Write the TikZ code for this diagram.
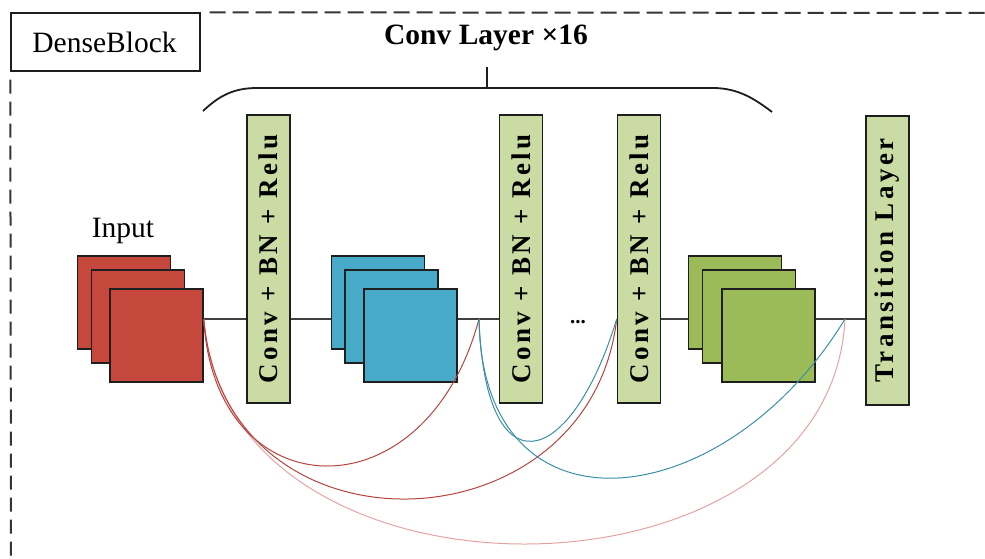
\documentclass[tikz,border=0pt]{standalone}
\usepackage{fontspec}
\setmainfont{Liberation Serif}
\newfontfamily\spacedfont[LetterSpace=13]{Liberation Serif}
\usetikzlibrary{backgrounds}

\definecolor{fmred}{HTML}{C6483D}
\definecolor{fmblue}{HTML}{47AAC8}
\definecolor{fmgreen}{HTML}{9BBB59}
\definecolor{opbox}{HTML}{CADBA4}
\definecolor{edge}{HTML}{1E1E1E}
\definecolor{skipred}{HTML}{B5443F}
\definecolor{skippale}{HTML}{E3A3A3}
\definecolor{skipblue}{HTML}{3A8FA3}

\tikzset{
  fmap/.style={draw=edge, line width=1.6pt, fill=#1, minimum width=93pt,
    minimum height=93pt, inner sep=0pt},
  opstack/.style={draw=edge, line width=1.6pt, fill=opbox, rotate=90,
    minimum width=288pt, minimum height=43pt, inner sep=0pt,
    font=\spacedfont\bfseries\fontsize{27}{28}\selectfont},
  flow/.style={draw=edge!85, line width=1.6pt},
  skip/.style={line width=1pt, draw=#1},
  label/.style={font=\fontsize{29.5}{31}\selectfont, inner sep=0pt},
  frameline/.style={edge!90, line width=2pt},
}

\begin{document}
\begin{tikzpicture}[x=1pt, y=-1pt]
\useasboundingbox (0,0) rectangle (985,559);

% dense block frame and its tag
\node[draw=edge, line width=1.4pt, minimum width=189pt, minimum height=58pt,
  inner sep=0pt] (tag) at (105.5,42) {};
\node[label] (tagtext) at (104.5,42) {DenseBlock};
\draw[frameline, dash pattern=on 16pt off 7pt]
  (tag.north east) ++(9,0) -- (985,13);
\draw[frameline, dash pattern=on 14pt off 8pt]
  (tag.south west) ++(0,8) -- (11,559);

% title and brace
\node[label, font=\bfseries\fontsize{29.5}{31}\selectfont, anchor=base]
  (title) at (486,45) {Conv Layer ×16};
\coordinate (bracetop) at (487,67);
\coordinate (bracemid) at (487,88);
\draw[edge, line width=1.8pt] (bracetop) -- (bracemid);
\draw[edge, line width=1.8pt]
  (203,111) .. controls (218,97) and (232,88) .. (257,88)
  -- (713,88) .. controls (738,88) and (755,99) .. (772,112);

% feature maps
\node[fmap=fmred] (r1) at (124,302.5) {};
\node[fmap=fmred] (r2) at (138,316.5) {};
\node[fmap=fmred] (r3) at (156.5,335.5) {};
\node[label, anchor=base] (inlabel) at (123,237) {Input};

\node[fmap=fmblue] (b1) at (378,302.5) {};
\node[fmap=fmblue] (b2) at (391.5,316.5) {};
\node[fmap=fmblue] (b3) at (410.5,335.5) {};

\node[fmap=fmgreen] (g1) at (735,302.5) {};
\node[fmap=fmgreen] (g2) at (749,316.5) {};
\node[fmap=fmgreen] (g3) at (768.5,335.5) {};

% operation boxes (rotated: north is the left side, south the right side)
\node[opstack] (c1) at (268.5,259) {Conv + BN + Relu};
\node[opstack] (c2) at (521,259) {Conv + BN + Relu};
\node[opstack] (c3) at (639,259) {Conv + BN + Relu};
\node[opstack, minimum width=289pt] (tr) at (887.5,260.5) {Transition Layer};

\node[font=\bfseries\fontsize{21}{21}\selectfont, inner sep=0pt, anchor=base]
  (dots) at (578,323) {...};

% main data path and dense skip connections
\coordinate (mid) at (0,319);
\coordinate (j1) at (479,319);
\coordinate (j2) at (c3.north |- mid);
\coordinate (j3) at (845,319);

\begin{scope}[on background layer]
  \draw[flow] (r3.east |- mid) -- (c1.north |- mid);
  \draw[flow] (c1.south |- mid) -- (b1.west |- mid);
  \draw[flow] (b3.east |- mid) -- (c2.north |- mid);
  \draw[flow] (c3.south |- mid) -- (g1.west |- mid);
  \draw[flow] (g3.east |- mid) -- (tr.north |- mid);
\end{scope}

\draw[skip=skippale] (r3.east |- mid)
  .. controls (225,622) and (830,616) .. (j3);
\draw[skip=skipred] (r3.east |- mid)
  .. controls (225,566) and (590,552) .. (j2);
\draw[skip=skipred] (r3.east |- mid)
  .. controls (214,510) and (425,520) .. (j1);
\draw[skip=skipblue] (j1)
  .. controls (482,546) and (725,516) .. (j3);
\draw[skip=skipblue] (j1)
  .. controls (485,492) and (570,472) .. (j2);
\end{tikzpicture}
\end{document}
